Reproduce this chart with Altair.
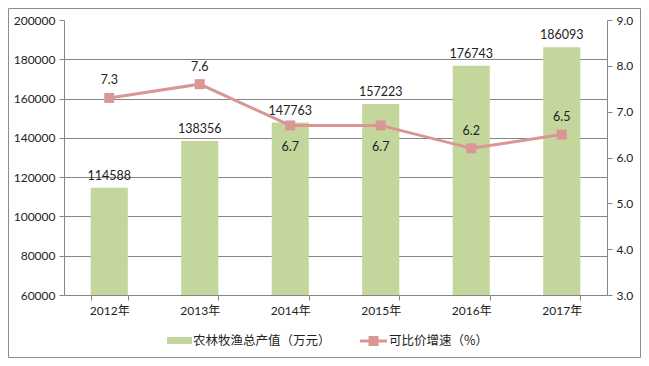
import altair as alt
import pandas as pd

years = ["2012年", "2013年", "2014年", "2015年", "2016年", "2017年"]
output_value = [114588, 138356, 147763, 157223, 176743, 186093]
growth_rate = [7.3, 7.6, 6.7, 6.7, 6.2, 6.5]
series_names = ["农林牧渔总产值（万元）", "可比价增速（%）"]
left_ticks = [60000, 80000, 100000, 120000, 140000, 160000, 180000, 200000]
right_ticks = [3.0, 4.0, 5.0, 6.0, 7.0, 8.0, 9.0]
labels_below = ["2014年", "2015年"]

BAR = "#C3D69B"
LINE = "#D99694"
GRID = "#868686"
TXT = "#222222"
FONT = 'Lato, "Noto Sans CJK SC", sans-serif'
CJK = '"Noto Sans CJK SC", sans-serif'

W, H = 543, 275
PAD = {"left": 56, "top": 12, "right": 34, "bottom": 63}

df = pd.DataFrame({"year": years, "value": output_value, "rate": growth_rate})

xscale = alt.Scale(paddingInner=0.59, paddingOuter=0.295)
xaxis = alt.Axis(title=None, labelAngle=0, tickBand="extent",
                 domainColor=GRID, tickColor=GRID, tickSize=5,
                 labelPadding=5, labelFont=FONT, labelFontSize=12,
                 labelColor=TXT, grid=False, labelOverlap=False)
xenc = alt.X("year:N", sort=years, scale=xscale, axis=xaxis)

lscale = alt.Scale(domain=[60000, 200000], nice=False, zero=False)
rscale = alt.Scale(domain=[3, 9], nice=False, zero=False)

laxis = alt.Axis(title=None, values=left_ticks, format="d",
                 grid=True, gridColor=GRID, gridWidth=1,
                 gridOpacity={"condition": {"test": "datum.value == 200000", "value": 0}, "value": 1},
                 domainColor=GRID, tickColor=GRID, tickSize=5,
                 labelPadding=4, labelFont=FONT, labelFontSize=12,
                 labelColor=TXT, labelOverlap=False)
raxis = alt.Axis(title=None, orient="right", values=right_ticks,
                 format=".1f", grid=False,
                 domainColor=GRID, tickColor=GRID, tickSize=5,
                 labelPadding=4, labelFont=FONT, labelFontSize=12,
                 labelColor=TXT, labelOverlap=False)
yleft = alt.Y("value:Q", scale=lscale, axis=laxis)
yright = alt.Y("rate:Q", scale=rscale, axis=raxis)

base = alt.Chart(df)

bars = base.mark_bar(color=BAR, clip=True).encode(x=xenc, y=yleft)
bar_text = base.mark_text(font=FONT, fontSize=12.5, color=TXT, dy=-8,
                          baseline="alphabetic").encode(
    x=xenc, y=yleft, text=alt.Text("value:Q", format="d"))
bar_layer = alt.layer(bars, bar_text)

line = base.mark_line(color=LINE, strokeWidth=3).encode(x=xenc, y=yright)
pts = base.mark_point(shape="square", filled=True, size=100, color=LINE,
                      opacity=1).encode(x=xenc, y=yright)
above = base.transform_filter(
    alt.FieldOneOfPredicate(field="year", oneOf=[y for y in years if y not in labels_below])
).mark_text(font=FONT, fontSize=12.5, color=TXT, dy=-13.5, baseline="alphabetic").encode(
    x=xenc, y=yright, text=alt.Text("rate:Q", format=".1f"))
below = base.transform_filter(
    alt.FieldOneOfPredicate(field="year", oneOf=labels_below)
).mark_text(font=FONT, fontSize=12.5, color=TXT, dy=26, baseline="alphabetic").encode(
    x=xenc, y=yright, text=alt.Text("rate:Q", format=".1f"))
line_layer = alt.layer(line, pts, above, below)

one = pd.DataFrame({"a": [series_names[0]], "b": [series_names[1]]})
lg = alt.Chart(one)
leg_rect = lg.mark_rect(color=BAR).encode(
    x=alt.value(103), x2=alt.value(128), y=alt.value(317), y2=alt.value(324))
leg_text1 = lg.mark_text(font=CJK, fontSize=12.5, color=TXT, align="left",
                         baseline="middle").encode(
    x=alt.value(129), y=alt.value(321), text="a:N")
leg_rule = lg.mark_rule(color=LINE, strokeWidth=3).encode(
    x=alt.value(296), x2=alt.value(323), y=alt.value(321))
leg_pt = lg.mark_point(shape="square", filled=True, size=100, color=LINE,
                       opacity=1).encode(x=alt.value(309.5), y=alt.value(321))
leg_text2 = lg.mark_text(font=CJK, fontSize=12.5, color=TXT, align="left",
                         baseline="middle").encode(
    x=alt.value(325), y=alt.value(321), text="b:N")

border = lg.mark_rect(fill=None, stroke="#8c8c8c", strokeWidth=1).encode(
    x=alt.value(-PAD["left"] + 0.5), x2=alt.value(W + PAD["right"] - 0.5),
    y=alt.value(-PAD["top"] + 0.5), y2=alt.value(H + PAD["bottom"] - 0.5))

chart = alt.layer(
    bar_layer, line_layer, leg_rect, leg_text1, leg_rule, leg_pt, leg_text2, border
).resolve_scale(y="independent").properties(
    width=W, height=H, padding=PAD,
    autosize=alt.AutoSizeParams(type="none"),
    background="white"
).configure_view(stroke=None)

chart.save("out.html", embed_options={"renderer": "svg", "actions": False})
